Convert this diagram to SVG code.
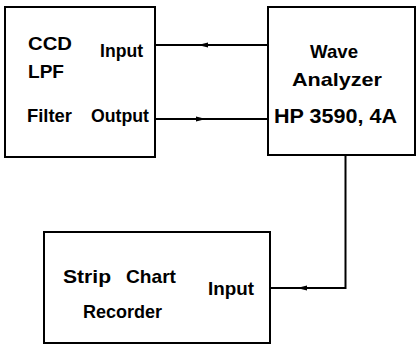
<svg xmlns="http://www.w3.org/2000/svg" width="416" height="345" viewBox="0 0 416 345">
<style>
.box{fill:#fff;stroke:#000;stroke-width:2}
.ln{fill:none;stroke:#000;stroke-width:2}
text{font-family:"Liberation Sans",Arial,sans-serif;font-size:19px;font-weight:bold;fill:#000}
</style>
<defs>
<marker id="ah" viewBox="0 0 10 6" refX="5" refY="3" markerWidth="10" markerHeight="6" markerUnits="userSpaceOnUse" orient="auto">
<path d="M0,0.5 L10,3 L0,5.5 Z" fill="#000"/>
</marker>
</defs>
<rect width="416" height="345" fill="#fff"/>
<g id="connectors">
<path class="ln" d="M268,45 L203,45 L155,45" marker-mid="url(#ah)"/>
<path class="ln" d="M155,119 L201,119 L268,119" marker-mid="url(#ah)"/>
<path class="ln" d="M345.5,155 L345.5,288 L302,288"/>
<path class="ln" d="M345.5,288 L302,288 L270,288" marker-mid="url(#ah)"/>
</g>
<g id="ccd-lpf">
<rect class="box" x="5" y="7" width="150" height="150"/>
<text x="28" y="50" textLength="44" lengthAdjust="spacingAndGlyphs">CCD</text>
<text x="28" y="78" textLength="36" lengthAdjust="spacingAndGlyphs">LPF</text>
<text x="27" y="122" textLength="45" lengthAdjust="spacingAndGlyphs">Filter</text>
<text x="100" y="57" textLength="43" lengthAdjust="spacingAndGlyphs" style="font-size:18px">Input</text>
<text x="91" y="122" textLength="58" lengthAdjust="spacingAndGlyphs">Output</text>
</g>
<g id="wave-analyzer">
<rect class="box" x="268" y="7" width="147" height="148"/>
<text x="310" y="58" textLength="48" lengthAdjust="spacingAndGlyphs">Wave</text>
<text x="292" y="86" textLength="90" lengthAdjust="spacingAndGlyphs">Analyzer</text>
<text x="274" y="123" textLength="123" lengthAdjust="spacingAndGlyphs" style="font-size:20px">HP 3590, 4A</text>
</g>
<g id="strip-chart-recorder">
<rect class="box" x="44" y="232" width="226" height="111"/>
<text x="63" y="283" textLength="48" lengthAdjust="spacingAndGlyphs">Strip</text>
<text x="126" y="283" textLength="50" lengthAdjust="spacingAndGlyphs">Chart</text>
<text x="83" y="318" textLength="79" lengthAdjust="spacingAndGlyphs">Recorder</text>
<text x="208" y="295" textLength="46" lengthAdjust="spacingAndGlyphs">Input</text>
</g>
</svg>
